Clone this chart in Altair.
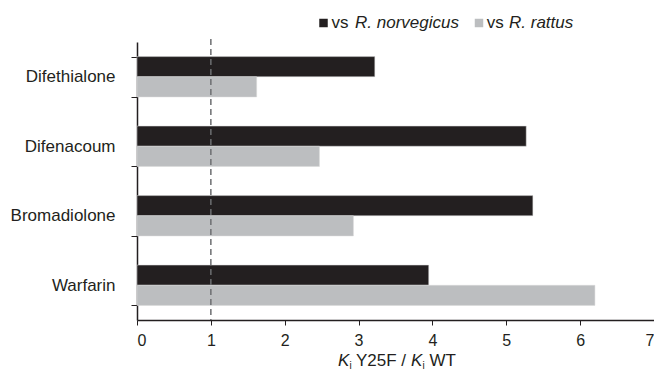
import altair as alt
import pandas as pd

compounds = ["Difethialone", "Difenacoum", "Bromadiolone", "Warfarin"]
norvegicus = [3.22, 5.27, 5.36, 3.95]
rattus = [1.62, 2.47, 2.93, 6.20]
series = ["vs R. norvegicus", "vs R. rattus"]
colors = ["#231f20", "#bcbec0"]
x_ticks = [0, 1, 2, 3, 4, 5, 6, 7]
reference_line = [1]

FONT = "Liberation Sans"

rows = []
for c, n, r in zip(compounds, norvegicus, rattus):
    rows.append({"compound": c, "series": series[0], "value": n})
    rows.append({"compound": c, "series": series[1], "value": r})
df = pd.DataFrame(rows)

W, H = 517, 278
TOP = 34
LEFT = 129

bars = alt.Chart(df).mark_bar(stroke="#d9d9d9", strokeWidth=0.5).encode(
    x=alt.X("value:Q",
            scale=alt.Scale(domain=[0, 7], nice=False, zero=True),
            axis=alt.Axis(values=x_ticks, title=None, grid=False, format="d",
                          domainColor="#231f20", domainWidth=1.5,
                          tickColor="#231f20", tickWidth=1, tickSize=5,
                          labelFont=FONT, labelFontSize=16, labelColor="#231f20",
                          labelPadding=7)),
    y=alt.Y("compound:N", sort=compounds,
            scale=alt.Scale(paddingInner=0.42, paddingOuter=0.21),
            axis=alt.Axis(title=None, tickBand="extent", grid=False,
                          domainColor="#231f20", domainWidth=1.5,
                          tickColor="#231f20", tickWidth=1, tickSize=6,
                          labelFont=FONT, labelFontSize=17, labelColor="#231f20",
                          labelPadding=16)),
    yOffset=alt.YOffset("series:N", sort=series,
                        scale=alt.Scale(paddingInner=0, paddingOuter=0)),
    color=alt.Color("series:N", scale=alt.Scale(domain=series, range=colors), legend=None),
)

rule = alt.Chart(pd.DataFrame({"x": reference_line})).mark_rule(
    color="#6d6e71", strokeDash=[6, 4], strokeWidth=1.5
).encode(x="x:Q", y=alt.value(-3), y2=alt.value(H))


def txt(text, x, y, size=17, style="normal", align="left", baseline="alphabetic"):
    return alt.Chart(pd.DataFrame({"t": [text]})).mark_text(
        font=FONT, fontSize=size, fontStyle=style, align=align,
        baseline=baseline, color="#231f20"
    ).encode(text="t:N", x=alt.value(x), y=alt.value(y))


def sq(x, y, color):
    return alt.Chart(pd.DataFrame({"s": [0]})).mark_square(
        size=72, color=color, opacity=1
    ).encode(x=alt.value(x), y=alt.value(y))


ox = 8 + LEFT
oy = 8 + TOP
leg_c = 23 - oy
leg_b = 28 - oy
legend = [
    sq(323.5 - ox, leg_c, colors[0]),
    txt("vs", 331.5 - ox, leg_b),
    txt("R. norvegicus", 355 - ox, leg_b, style="italic"),
    sq(479 - ox, leg_c, colors[1]),
    txt("vs", 486.7 - ox, leg_b),
    txt("R. rattus", 509 - ox, leg_b, style="italic"),
]

title_y = H + 46
xtitle = [
    txt("K", 338 - ox, title_y, style="italic"),
    txt("i", 349.5 - ox, title_y + 3, size=10),
    txt("Y25F /", 356 - ox, title_y),
    txt("K", 411 - ox, title_y, style="italic"),
    txt("i", 422.5 - ox, title_y + 3, size=10),
    txt("WT", 429.5 - ox, title_y),
]

chart = alt.layer(bars, rule, *legend, *xtitle).properties(
    width=W, height=H,
    autosize=alt.AutoSizeParams(type="none"),
    padding={"left": LEFT, "top": TOP, "right": 0, "bottom": 365 - TOP - H},
).configure_view(stroke=None)

chart.save("out.html", embed_options={"renderer": "svg", "actions": False})
